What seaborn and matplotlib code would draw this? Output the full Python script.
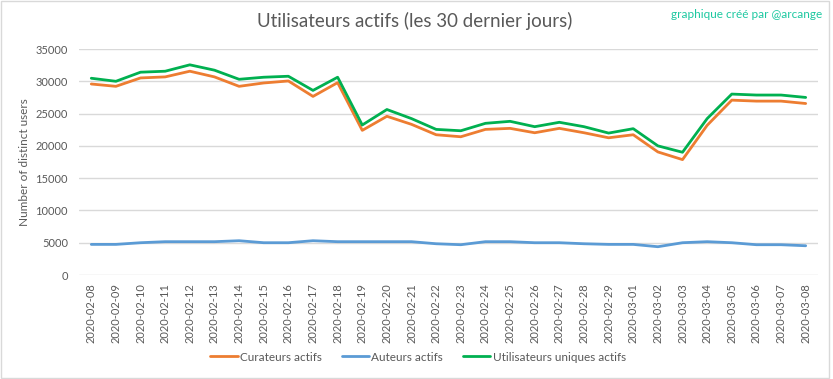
import matplotlib
matplotlib.use("Agg")
import matplotlib.pyplot as plt
from matplotlib.patches import Rectangle
import seaborn as sns
import pandas as pd

dates = ["2020-02-08", "2020-02-09", "2020-02-10", "2020-02-11", "2020-02-12",
         "2020-02-13", "2020-02-14", "2020-02-15", "2020-02-16", "2020-02-17",
         "2020-02-18", "2020-02-19", "2020-02-20", "2020-02-21", "2020-02-22",
         "2020-02-23", "2020-02-24", "2020-02-25", "2020-02-26", "2020-02-27",
         "2020-02-28", "2020-02-29", "2020-03-01", "2020-03-02", "2020-03-03",
         "2020-03-04", "2020-03-05", "2020-03-06", "2020-03-07", "2020-03-08"]

curateurs = [29580, 29220, 30520, 30680, 31560, 30680, 29220, 29740, 30050, 27660,
             29790, 22400, 24580, 23330, 21720, 21410, 22550, 22710, 22030, 22710,
             22030, 21250, 21720, 19060, 17870, 23180, 27080, 26930, 26930, 26560]

auteurs = [4740, 4740, 5000, 5160, 5160, 5160, 5310, 5000, 5000, 5310,
           5160, 5160, 5160, 5160, 4840, 4690, 5160, 5160, 5000, 5000,
           4840, 4740, 4740, 4380, 5000, 5160, 5000, 4690, 4690, 4530]

uniques = [30470, 30000, 31410, 31560, 32550, 31720, 30310, 30630, 30780, 28590,
           30630, 23230, 25630, 24220, 22550, 22340, 23490, 23800, 22970, 23650,
           22970, 21980, 22660, 20000, 19010, 24220, 28020, 27870, 27870, 27500]

series_names = ["Curateurs actifs", "Auteurs actifs", "Utilisateurs uniques actifs"]
colors = {"Curateurs actifs": "#ED7D31",
          "Auteurs actifs": "#5B9BD5",
          "Utilisateurs uniques actifs": "#00B050"}

df = pd.concat([
    pd.DataFrame({"date": dates, "users": vals, "serie": name})
    for name, vals in zip(series_names, [curateurs, auteurs, uniques])
])

sns.set_style("white")
plt.rcParams["font.family"] = ["Lato", "DejaVu Sans"]

fig = plt.figure(figsize=(8.33, 3.79), dpi=100)
ax = fig.add_axes([0.0948, 0.2744, 0.8872, 0.5963])

sns.lineplot(data=df, x="date", y="users", hue="serie", hue_order=series_names,
             palette=colors, linewidth=2, sort=False, ax=ax)

ax.set_xlim(-0.5, len(dates) - 0.5)
ax.set_ylim(0, 35000)
ax.set_yticks(range(0, 35001, 5000))
ax.grid(axis="y", color="#D9D9D9", linewidth=1)
ax.set_axisbelow(True)
for s in ax.spines.values():
    s.set_visible(False)
ax.tick_params(axis="x", rotation=90, labelsize=8, colors="#595959", length=0, pad=6)
ax.tick_params(axis="y", labelsize=8, colors="#595959", length=0, pad=8)
ax.set_xlabel("")
ax.set_ylabel("Number of distinct users", fontsize=8.5, color="#595959")
ax.yaxis.set_label_coords(-0.066, 0.5)

ax.legend(loc="center", bbox_to_anchor=(0.459, -0.363), ncol=3, frameon=False,
          fontsize=8.5, labelcolor="#595959", handlelength=2.3, columnspacing=1.7,
          handletextpad=0.2)

fig.text(0.498, 0.945, "Utilisateurs actifs (les 30 dernier jours)", ha="center",
         va="center", fontsize=13.5, color="#595959")
fig.text(0.987, 0.962, "graphique créé par @arcange", ha="right", va="center",
         fontsize=8.5, color="#1CC8A0")

fig.patches.append(Rectangle((0.001, 0.002), 0.994, 0.995, transform=fig.transFigure,
                             fill=False, edgecolor="#D9D9D9", linewidth=1))

fig.savefig("out.png", dpi=100)
